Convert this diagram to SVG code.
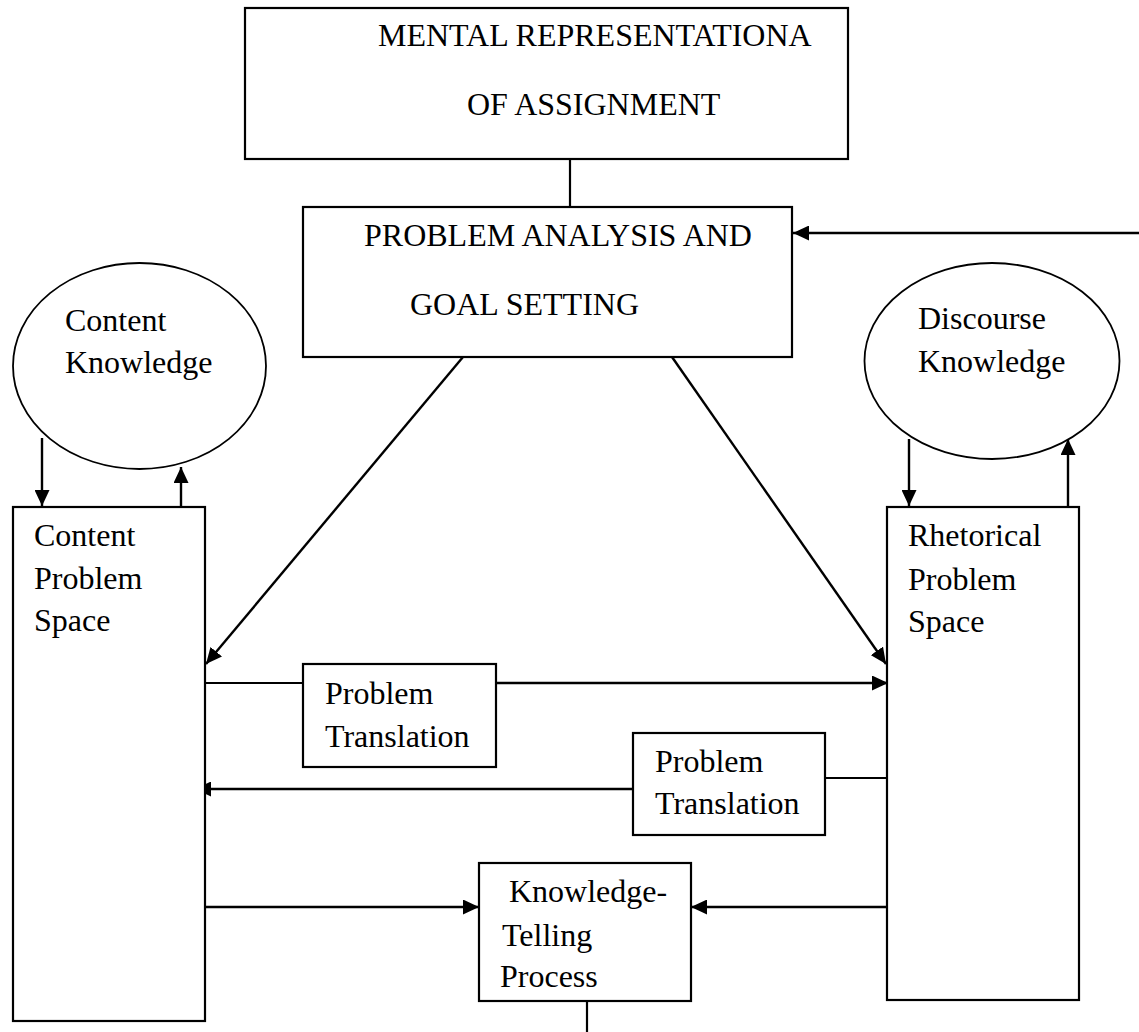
<svg xmlns="http://www.w3.org/2000/svg" width="1139" height="1032" viewBox="0 0 1139 1032">
  <style>
    .box { fill: #fff; stroke: #000; stroke-width: 2.2; }
    .oval { fill: #fff; stroke: #000; stroke-width: 1.8; }
    .lbl { font-family: "Liberation Serif", "Times New Roman", serif; font-size: 32px; fill: #000; }
    .wire { fill: none; stroke: #000; stroke-width: 2.2; }
    .arrow { fill: none; stroke: #000; stroke-width: 2.4; marker-end: url(#head); }
  </style>
  <defs>
    <marker id="head" viewBox="0 0 16 15" refX="16" refY="7.5" markerWidth="16" markerHeight="15" markerUnits="userSpaceOnUse" orient="auto">
      <path d="M0,0 L16,7.5 L0,15 Z" fill="#000"/>
    </marker>
  </defs>
  <rect width="1139" height="1032" fill="#fff"/>

  <g id="connectors">
    <!-- assignment to goal setting -->
    <line class="wire" x1="570" y1="159" x2="570" y2="207"/>
    <!-- feedback into goal setting from the right margin -->
    <line class="arrow" x1="1139" y1="233" x2="793" y2="233"/>
    <!-- goal setting to both problem spaces -->
    <line class="arrow" x1="463" y1="357" x2="206" y2="664"/>
    <line class="arrow" x1="672" y1="357" x2="886" y2="664"/>
    <!-- knowledge stores and problem spaces -->
    <line class="arrow" x1="42" y1="438" x2="42" y2="506"/>
    <line class="arrow" x1="181" y1="507" x2="181" y2="467"/>
    <line class="arrow" x1="909" y1="439" x2="909" y2="506"/>
    <line class="arrow" x1="1068" y1="507" x2="1068" y2="439"/>
    <!-- content to rhetorical translation -->
    <line class="wire" x1="205" y1="683" x2="303" y2="683"/>
    <line class="arrow" x1="496" y1="683" x2="888" y2="683"/>
    <!-- rhetorical to content translation -->
    <line class="wire" x1="825" y1="778" x2="887" y2="778"/>
    <line class="arrow" x1="633" y1="789" x2="195" y2="789"/>
    <!-- into knowledge-telling -->
    <line class="arrow" x1="205" y1="907" x2="479" y2="907"/>
    <line class="arrow" x1="887" y1="907" x2="691" y2="907"/>
    <line class="wire" x1="587" y1="1001" x2="587" y2="1032"/>
  </g>

  <g id="mental-representation">
    <rect class="box" x="245" y="8" width="603" height="151"/>
    <text class="lbl" x="378" y="46">MENTAL REPRESENTATIONA</text>
    <text class="lbl" x="467" y="115">OF ASSIGNMENT</text>
  </g>

  <g id="problem-analysis">
    <rect class="box" x="303" y="207" width="489" height="150"/>
    <text class="lbl" x="364" y="246">PROBLEM ANALYSIS AND</text>
    <text class="lbl" x="410" y="315">GOAL SETTING</text>
  </g>

  <g id="content-knowledge">
    <ellipse class="oval" cx="139.5" cy="366" rx="126.5" ry="103"/>
    <text class="lbl" x="65" y="331">Content</text>
    <text class="lbl" x="65" y="373">Knowledge</text>
  </g>

  <g id="discourse-knowledge">
    <ellipse class="oval" cx="992" cy="361" rx="127.5" ry="98"/>
    <text class="lbl" x="918" y="329">Discourse</text>
    <text class="lbl" x="918" y="372">Knowledge</text>
  </g>

  <g id="content-problem-space">
    <rect class="box" x="13" y="507" width="192" height="514"/>
    <text class="lbl" x="34" y="546">Content</text>
    <text class="lbl" x="34" y="589">Problem</text>
    <text class="lbl" x="34" y="631">Space</text>
  </g>

  <g id="rhetorical-problem-space">
    <rect class="box" x="887" y="507" width="192" height="493"/>
    <text class="lbl" x="908" y="546">Rhetorical</text>
    <text class="lbl" x="908" y="590">Problem</text>
    <text class="lbl" x="908" y="632">Space</text>
  </g>

  <g id="translation-to-rhetorical">
    <rect class="box" x="303" y="664" width="193" height="103"/>
    <text class="lbl" x="325" y="704">Problem</text>
    <text class="lbl" x="325" y="747">Translation</text>
  </g>

  <g id="translation-to-content">
    <rect class="box" x="633" y="733" width="192" height="102"/>
    <text class="lbl" x="655" y="772">Problem</text>
    <text class="lbl" x="655" y="814">Translation</text>
  </g>

  <g id="knowledge-telling">
    <rect class="box" x="479" y="863" width="212" height="138"/>
    <text class="lbl" x="509" y="902">Knowledge-</text>
    <text class="lbl" x="502" y="946">Telling</text>
    <text class="lbl" x="500" y="987">Process</text>
  </g>
</svg>
